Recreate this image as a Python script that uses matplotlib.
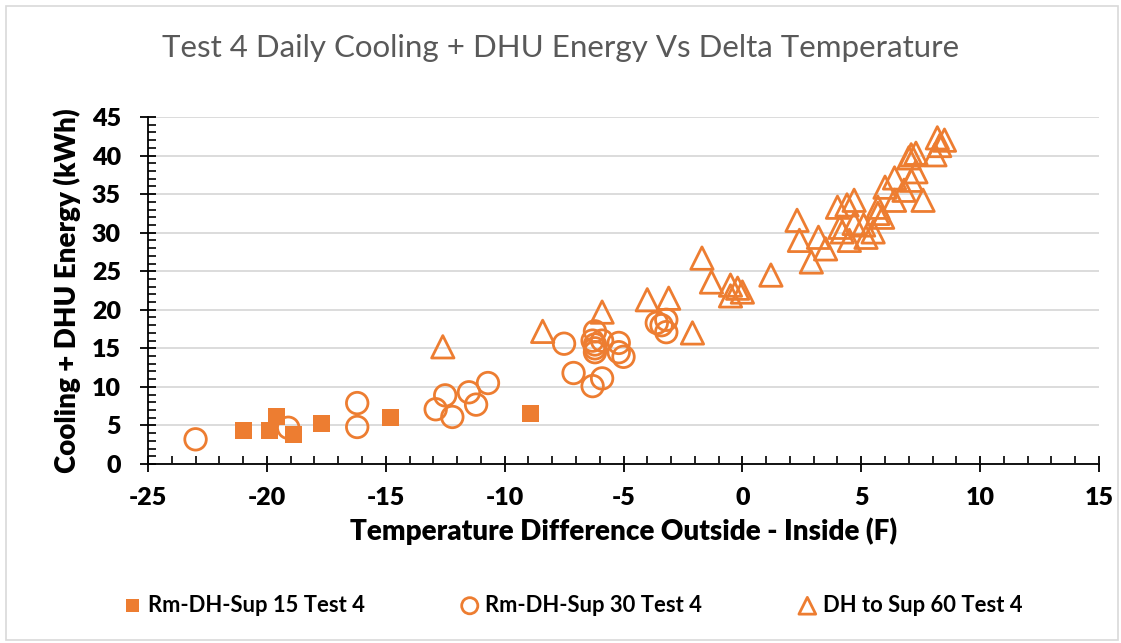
import matplotlib.pyplot as plt
from matplotlib.patches import Rectangle
from matplotlib.ticker import MultipleLocator

# series 1: Rm-DH-Sup 15 Test 4 (filled squares)
sq_x = [-21.0, -19.9, -19.6, -18.9, -17.7, -14.8, -8.9]
sq_y = [4.3, 4.3, 6.1, 3.8, 5.2, 6.0, 6.5]

# series 2: Rm-DH-Sup 30 Test 4 (open circles)
ci_x = [-23.0, -19.1, -16.2, -16.2, -12.9, -12.5, -12.2, -11.5, -11.2, -10.7,
        -7.5, -7.1, -6.3, -6.2, -6.2, -6.2, -6.3, -6.2, -5.9, -5.9,
        -5.2, -5.2, -5.0, -3.6, -3.4, -3.2, -3.2]
ci_y = [3.2, 4.7, 7.9, 4.8, 7.1, 8.9, 6.1, 9.3, 7.7, 10.5,
        15.6, 11.8, 10.1, 14.5, 15.0, 15.5, 16.0, 17.2, 11.1, 16.0,
        15.7, 14.5, 13.9, 18.3, 18.0, 17.1, 18.7]

# series 3: DH to Sup 60 Test 4 (open triangles)
tr_x = [-12.6, -8.4, -5.9, -4.0, -3.1, -2.1, -1.7, -1.3, -0.5, -0.5,
        -0.2, 0.0, 1.2, 2.3, 2.4, 2.9, 3.2, 3.5, 4.0, 4.4,
        4.7, 4.1, 4.2, 4.5, 4.7, 5.1, 5.2, 5.5, 5.7, 5.9,
        5.7, 6.0, 6.4, 6.4, 6.8, 7.1, 7.3, 7.1, 7.3, 7.0,
        7.6, 8.2, 8.5, 8.1, 8.3]
tr_y = [15.2, 17.2, 19.7, 21.3, 21.5, 17.0, 26.7, 23.6, 23.2, 21.8,
        22.8, 22.3, 24.5, 31.6, 29.0, 26.2, 29.4, 27.9, 33.3, 33.6,
        34.2, 30.7, 30.1, 29.0, 31.2, 31.0, 29.4, 30.1, 33.3, 32.0,
        32.5, 35.9, 37.1, 34.2, 35.5, 36.8, 37.9, 40.1, 40.3, 39.7,
        34.2, 42.3, 42.0, 40.1, 41.3]

orange = "#ED7D31"
plt.rcParams["font.family"] = ["Lato", "DejaVu Sans"]
plt.rcParams["axes.unicode_minus"] = False

fig = plt.figure(figsize=(11.21, 6.43), dpi=100)
ax = fig.add_axes([148 / 1121, 1 - 464 / 643, (1099 - 148) / 1121, (464 - 117) / 643])

ax.scatter(sq_x, sq_y, marker="s", s=150, color=orange, edgecolors="none",
           label="Rm-DH-Sup 15 Test 4", zorder=3)
ax.scatter(ci_x, ci_y, marker="o", s=240, facecolors="none", edgecolors=orange,
           linewidths=2, label="Rm-DH-Sup 30 Test 4", zorder=3)
ax.scatter(tr_x, tr_y, marker="^", s=260, facecolors="none", edgecolors=orange,
           linewidths=2, label="DH to Sup 60 Test 4", zorder=3)

ax.set_xlim(-25, 15)
ax.set_ylim(0, 45)
ax.xaxis.set_major_locator(MultipleLocator(5))
ax.xaxis.set_minor_locator(MultipleLocator(1))
ax.yaxis.set_major_locator(MultipleLocator(5))
ax.yaxis.set_minor_locator(MultipleLocator(1))
ax.grid(axis="y", color="#d9d9d9", linewidth=1.3, zorder=0)
ax.set_axisbelow(True)

for s in ["top", "right"]:
    ax.spines[s].set_visible(False)
for s in ["left", "bottom"]:
    ax.spines[s].set_linewidth(1.3)

ax.tick_params(which="major", direction="inout", length=11, width=1.3,
               labelsize=18)
ax.tick_params(axis="x", which="major", pad=11)
ax.tick_params(axis="y", which="major", pad=14)
ax.tick_params(which="minor", direction="in", length=6, width=1.2)

ax.set_xlabel("Temperature Difference Outside - Inside (F)", fontsize=20,
              fontweight="heavy", labelpad=6)
ax.set_ylabel("Cooling + DHU Energy (kWh)", fontsize=20, fontweight="heavy",
              labelpad=8)
fig.text(0.5, 1 - 48 / 643, "Test 4 Daily Cooling + DHU Energy Vs Delta Temperature",
         ha="center", va="center", fontsize=22.5, color="#595959")

fig.legend(loc="center", bbox_to_anchor=(0.51, 1 - 605 / 643), ncol=3,
           frameon=False, markerscale=0.75, handlelength=1.0, handletextpad=0.2,
           columnspacing=4.3, prop={"weight": "bold", "size": 15.8})

fig.patches.append(Rectangle((6 / 1121, 3 / 643), 1112 / 1121, 634 / 643,
                             transform=fig.transFigure, fill=False,
                             edgecolor="#d9d9d9", linewidth=1.2))

# tick labels bold, set once the ticks exist
fig.canvas.draw()
for lbl in ax.get_xticklabels() + ax.get_yticklabels():
    lbl.set_fontweight("heavy")

fig.savefig("out.png", dpi=100)
